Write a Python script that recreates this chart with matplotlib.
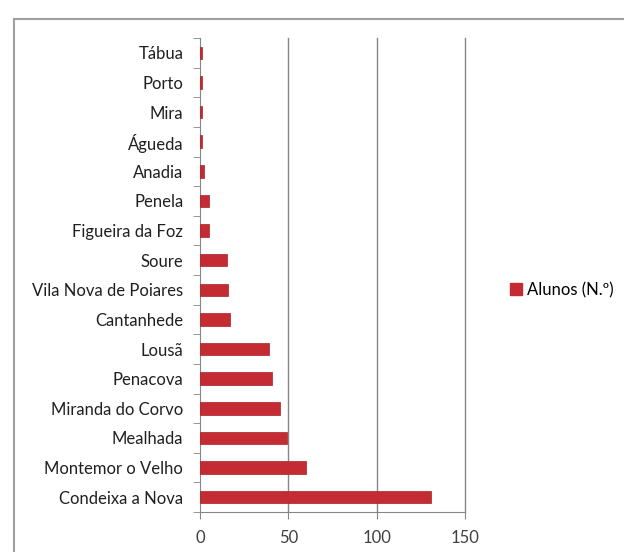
import matplotlib

matplotlib.use("Agg")
import matplotlib.pyplot as plt
from matplotlib.patches import Patch, Rectangle

# Data (top to bottom)
concelhos = [
    "Tábua", "Porto", "Mira", "Águeda", "Anadia", "Penela", "Figueira da Foz",
    "Soure", "Vila Nova de Poiares", "Cantanhede", "Lousã", "Penacova",
    "Miranda do Corvo", "Mealhada", "Montemor o Velho", "Condeixa a Nova",
]
alunos = [1, 1, 1, 1, 2, 5, 5, 15, 16, 17, 39, 41, 45, 49, 60, 131]
x_ticks = [0, 50, 100, 150]

plt.rcParams["font.family"] = ["Lato", "DejaVu Sans"]

fig = plt.figure(figsize=(6.24, 5.52), dpi=100)
ax = fig.add_axes([200 / 624, 40 / 552, 265 / 624, 474 / 552])

# Bars: first category at top
pos = list(range(len(concelhos)))[::-1]
ax.barh(pos, alunos, height=0.42, color="#C42B33", edgecolor="#A82028",
        linewidth=0.5, zorder=3)

ax.set_xlim(0, 150)
ax.set_ylim(-0.5, len(concelhos) - 0.5)
ax.set_xticks(x_ticks)
ax.set_xticklabels([str(t) for t in x_ticks], fontsize=12, color="#404040")
ax.set_yticks(pos)
ax.set_yticklabels(concelhos, fontsize=12, color="#202020")
ax.tick_params(axis="y", length=0, pad=12)
ax.tick_params(axis="x", length=5, color="#868686", pad=8)

# Excel-style tick marks between categories
ax.set_yticks([p - 0.5 for p in range(len(concelhos) + 1)], minor=True)
ax.tick_params(axis="y", which="minor", length=5, color="#868686")

# Vertical gridlines (drawn unclipped so the one at 150 is full width)
for t in x_ticks[1:]:
    ax.axvline(t, color="#868686", linewidth=1, zorder=0, clip_on=False)
for side in ["top", "right"]:
    ax.spines[side].set_visible(False)
for side in ["left", "bottom"]:
    ax.spines[side].set_color("#868686")

# Legend
handle = Patch(facecolor="#C42B33", edgecolor="#C42B33")
fig.legend([handle], ["Alunos (N.º)"], loc="center left",
           bbox_to_anchor=(495 / 624, 1 - 290 / 552), frameon=False,
           fontsize=12, handlelength=0.7, handleheight=0.7, handletextpad=0.3)

# Outer chart border
fig.patches.append(Rectangle((14 / 624, -0.1), 1.2, 1 - 19 / 552 + 0.1,
                             transform=fig.transFigure, fill=False,
                             edgecolor="#A0A0A0", linewidth=1.5))

fig.savefig("out.png", dpi=100)
